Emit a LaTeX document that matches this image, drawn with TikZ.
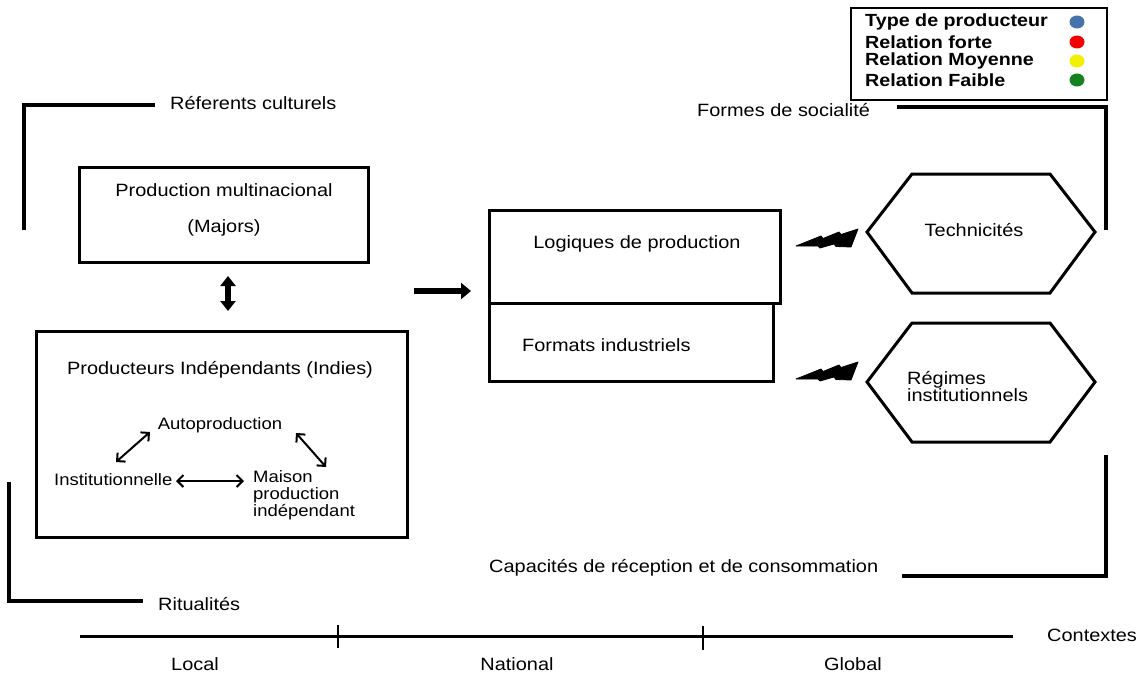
\documentclass[tikz,border=0pt]{standalone}
\usepackage{fontspec}
\setmainfont{Liberation Sans}[FakeStretch=1.12]
\usetikzlibrary{arrows.meta}
\definecolor{legblue}{RGB}{70,115,170}
\definecolor{legred}{RGB}{245,0,0}
\definecolor{legyellow}{RGB}{240,240,0}
\definecolor{leggreen}{RGB}{20,130,30}
\begin{document}
\begin{tikzpicture}[x=1pt,y=-1pt,
  every node/.style={inner sep=0pt, font=\fontsize{17.8}{20}\selectfont},
  small/.style={font=\fontsize{16.5}{17}\selectfont},
  legtext/.style={anchor=west, font=\fontsize{17.6}{19}\selectfont\bfseries},
  box/.style={draw, line width=3pt},
  bracket/.style={line width=3.5pt},
  thinarrow/.style={line width=2pt, {Straight Barb[length=6pt,width=12pt]}-{Straight Barb[length=6pt,width=12pt]}},
  blockarrow/.style={line width=6.5pt, -{Triangle[length=10pt,width=16pt]}},
  dblockarrow/.style={line width=6pt, {Triangle[length=10pt,width=15pt]}-{Triangle[length=10pt,width=15pt]}},
  bolt/.style={fill=black, draw=black, line width=0.8pt, line join=round},
  hexa/.style={draw, line width=3pt, line join=miter}
]
\useasboundingbox (0,0) rectangle (1144,677);

% Legend
\node[draw, line width=2pt, minimum width=256, minimum height=92] (legend) at (979,54) {};
\node[legtext] (l1) at (865,22) {Type de producteur};
\node[legtext] (l2) at (865,42) {Relation forte};
\node[legtext] (l3) at (865,61) {Relation Moyenne};
\node[legtext] (l4) at (865,80) {Relation Faible};
\fill[legblue] (1077,22) ellipse (7.5 and 6.5);
\fill[legred] (1077,42) ellipse (7.5 and 6.5);
\fill[legyellow] (1077,61) ellipse (7.5 and 6.5);
\fill[leggreen] (1077,80) ellipse (7.5 and 6.5);

% Top-left bracket
\coordinate (tl1) at (24,230);
\coordinate (tl2) at (24,105);
\coordinate (tl3) at (155,105);
\draw[bracket] (tl1) -- (tl2) -- (tl3);
\node[anchor=west] (refcult) at (170,103) {Réferents culturels};

% Majors box
\node[box, minimum width=289, minimum height=95] (majors) at (223.5,214.5) {};
\node (majt1) at (224,190) {Production multinacional};
\node (majt2) at (224,228) {(Majors)};

% double arrow
\coordinate (da1) at (228,276);
\coordinate (da2) at (228,311);
\draw[dblockarrow] (da1) -- (da2);

% Indies box
\node[box, minimum width=371, minimum height=206] (indies) at (221.5,434) {};
\node (indt) at (220,370) {Producteurs Indépendants (Indies)};
\node[small] (auto) at (220,425) {Autoproduction};
\node[small, anchor=west] (inst) at (54,480) {Institutionnelle};
\node[small, anchor=north west, align=left] (maison) at (253,470) {Maison\\production\\indépendant};
\coordinate (a1s) at (116,462);
\coordinate (a1e) at (150,432);
\coordinate (a2s) at (296,433);
\coordinate (a2e) at (326,467);
\coordinate (a3s) at (176,481);
\coordinate (a3e) at (244,481);
\draw[thinarrow] (a1s) -- (a1e);
\draw[thinarrow] (a2s) -- (a2e);
\draw[thinarrow] (a3s) -- (a3e);

% Bottom-left bracket
\coordinate (bl1) at (9,482);
\coordinate (bl2) at (9,601);
\coordinate (bl3) at (143,601);
\draw[bracket] (bl1) -- (bl2) -- (bl3);
\node[anchor=west] (ritual) at (158,604) {Ritualités};

% Right arrow
\coordinate (ra1) at (414,291);
\coordinate (ra2) at (471,291);
\draw[blockarrow] (ra1) -- (ra2);

% Logiques / Formats boxes
\node[box, minimum width=291, minimum height=93] (logiques) at (634.5,256.5) {};
\node[box, minimum width=284, minimum height=78] (formats) at (631,342) {};
\node (logt) at (637,244) {Logiques de production};
\node[anchor=west] (fort) at (522,345) {Formats industriels};

% Lightning bolts
\draw[bolt] (796,246) -- (821,236) -- (823,238.5) -- (839,232) -- (841,234.5) -- (858,229) -- (851,247) -- (836,246.5) -- (834,244) -- (820,248) -- (818,246) -- cycle;
\draw[bolt] (796,379) -- (821,369) -- (823,371.5) -- (839,365) -- (841,367.5) -- (858,362) -- (851,380) -- (836,379.5) -- (834,377) -- (820,381) -- (818,379) -- cycle;

% Hexagons
\node (tech) at (974,230) {Technicités};
\draw[hexa] (867,232) -- (912,174) -- (1050,174) -- (1095,232) -- (1050,293) -- (912,293) -- cycle;
\node[anchor=west, align=left, font=\fontsize{17.8}{17}\selectfont] (regimes) at (907,387) {Régimes\\institutionnels};
\draw[hexa] (867,382) -- (912,323) -- (1050,323) -- (1095,382) -- (1050,442) -- (912,442) -- cycle;

% Top-right bracket
\node[anchor=west] (formes) at (697,110) {Formes de socialité};
\coordinate (tr1) at (897,107);
\coordinate (tr2) at (1106,107);
\coordinate (tr3) at (1106,230);
\draw[bracket] (tr1) -- (tr2) -- (tr3);

% Bottom-right bracket
\node[anchor=west] (capac) at (489,568) {Capacités de réception et de consommation};
\coordinate (br1) at (1106,455);
\coordinate (br2) at (1106,576);
\coordinate (br3) at (902,576);
\draw[bracket] (br1) -- (br2) -- (br3);

% Timeline
\coordinate (t0) at (80,636);
\coordinate (t1) at (1013,636);
\draw[line width=3pt] (t0) -- (t1);
\coordinate (k1a) at (338,625);
\coordinate (k1b) at (338,648);
\coordinate (k2a) at (703,626);
\coordinate (k2b) at (703,650);
\draw[line width=2.5pt] (k1a) -- (k1b);
\draw[line width=2.5pt] (k2a) -- (k2b);
\node (local) at (195,664) {Local};
\node (national) at (517,664) {National};
\node (global) at (853,664) {Global};
\node[anchor=west] (context) at (1047,635) {Contextes};
\end{tikzpicture}
\end{document}
